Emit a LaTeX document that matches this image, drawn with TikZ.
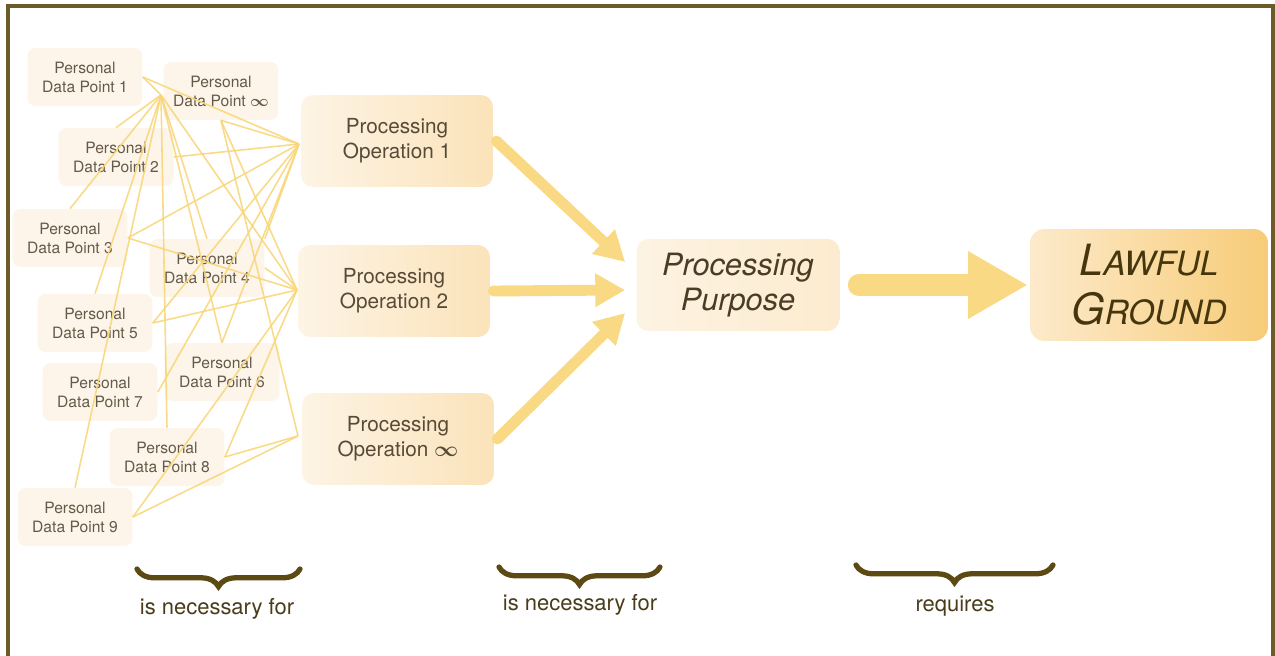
\documentclass[tikz,border=0pt]{standalone}
\usepackage{fontspec}
\setmainfont{TeX Gyre Heros}
\usetikzlibrary{arrows.meta,calc,decorations.pathreplacing}

\definecolor{framecol}{HTML}{6D5C2A}
\definecolor{webline}{HTML}{F8D67A}
\definecolor{arrowfill}{HTML}{F9D983}
\definecolor{dpfill}{HTML}{FDF5E9}
\definecolor{dptext}{HTML}{655A4A}
\definecolor{potext}{HTML}{574B38}
\definecolor{pptext}{HTML}{4A3D26}
\definecolor{poleft}{HTML}{FDF4E5}
\definecolor{poright}{HTML}{FBE3BA}
\definecolor{ppleft}{HTML}{FDF3E2}
\definecolor{ppright}{HTML}{FCEBCF}
\definecolor{lgleft}{HTML}{FDEACB}
\definecolor{lgright}{HTML}{F7CC78}
\definecolor{bracecol}{HTML}{5C4914}
\definecolor{labeltext}{HTML}{4A3C1A}
\definecolor{lgtext}{HTML}{45360E}

\newcommand{\inftymark}{{\boldmath$\infty$}}

\begin{document}
\begin{tikzpicture}[x=0.02cm,y=-0.02cm,
  datapt/.style={fill=dpfill, rounded corners=0.16cm, minimum width=2.3cm,
    minimum height=1.16cm, align=center, text=dptext, inner sep=0pt,
    font=\fontsize{8.9}{10.8}\selectfont},
  procop/.style={left color=poleft, right color=poright, rounded corners=0.24cm,
    minimum width=3.84cm, minimum height=1.84cm, align=center, text=potext,
    inner sep=0pt, font=\fontsize{11.8}{14.2}\selectfont},
  purposebox/.style={left color=ppleft, right color=ppright, rounded corners=0.24cm,
    minimum width=4.06cm, minimum height=1.84cm, align=center, text=pptext,
    inner sep=0pt, font=\fontsize{17.5}{20}\selectfont\itshape},
  groundbox/.style={left color=lgleft, right color=lgright, rounded corners=0.28cm,
    minimum width=4.76cm, minimum height=2.24cm, align=center, text=lgtext,
    inner sep=0pt, font=\fontsize{24.5}{28}\selectfont\itshape},
  webstyle/.style={draw=webline, line width=0.9pt, opacity=0.9},
  flowarrow/.style={draw=arrowfill, line width=6.2pt, line cap=round,
    -{Triangle[length=17pt,width=18pt]}},
  bigarrow/.style={draw=arrowfill, line width=12.5pt, line cap=round,
    -{Triangle[length=34pt,width=36pt]}},
  bracestyle/.style={draw=bracecol, line width=3pt, line cap=round,
    decorate, decoration={brace, mirror, amplitude=10pt}},
  relabel/.style={text=labeltext, font=\fontsize{12.5}{15}\selectfont, inner sep=0pt},
  framestyle/.style={draw=framecol, line width=2.2pt}
]
\useasboundingbox (0,0) rectangle (1275,656);

% outer frame (left, top and right edges)
\draw[framestyle] (8,656) -- (8,6) -- (1273,6) -- (1273,656);

% personal data points
\node[datapt] (dp1)   at (85,77)   {Personal\\Data Point 1};
\node[datapt] (dpinf) at (221,91)  {Personal\\Data Point \inftymark};
\node[datapt] (dp2)   at (116,157) {Personal\\Data Point 2};
\node[datapt] (dp3)   at (70,238)  {Personal\\Data Point 3};
\node[datapt] (dp4)   at (207,268) {Personal\\Data Point 4};
\node[datapt] (dp5)   at (95,323)  {Personal\\Data Point 5};
\node[datapt] (dp6)   at (222,372) {Personal\\Data Point 6};
\node[datapt] (dp7)   at (100,392) {Personal\\Data Point 7};
\node[datapt] (dp8)   at (167,457) {Personal\\Data Point 8};
\node[datapt] (dp9)   at (75,517)  {Personal\\Data Point 9};

% junction points of the web
\coordinate (h0)  at (161,95);
\coordinate (hp1) at (299,144);
\coordinate (hp2) at (297,290);
\coordinate (hp3) at (298,436);

% web of links between data points and operations
\draw[webstyle] (dp1.east) -- (hp1);
\draw[webstyle] (dp1.east) -- (h0);
\draw[webstyle] (h0) -- (dp2.north);
\draw[webstyle] (h0) -- (dp3.north);
\draw[webstyle] (h0) -- (dp5.north);
\draw[webstyle] (h0) -- (dp9.north);
\draw[webstyle] (h0) -- (dp8.north);
\draw[webstyle] (h0) -- (dp4.north);
\draw[webstyle] (h0) -- (dp6.north);
\draw[webstyle] (h0) -- (hp2);
\draw[webstyle] (dpinf.south) -- (hp1);
\draw[webstyle] (dpinf.south) -- (hp2);
\draw[webstyle] (dpinf.south) -- (hp3);
\draw[webstyle] (dp2.east) -- (hp1);
\draw[webstyle] (dp3.east) -- (hp1);
\draw[webstyle] (dp3.east) -- (hp2);
\draw[webstyle] (dp4.east) -- (hp2);
\draw[webstyle] (dp4.north east) -- (hp1);
\draw[webstyle] (dp5.east) -- (hp1);
\draw[webstyle] (dp5.east) -- (hp2);
\draw[webstyle] (dp6.north) -- (hp1);
\draw[webstyle] (dp7.east) -- (hp1);
\draw[webstyle] (dp8.east) -- (hp2);
\draw[webstyle] (dp8.east) -- (hp3);
\draw[webstyle] (dp9.east) -- (hp2);
\draw[webstyle] (dp9.east) -- (hp3);

% processing operations
\node[procop] (po1) at (397,141) {Processing\\Operation 1};
\node[procop] (po2) at (394,291) {Processing\\Operation 2};
\node[procop] (po3) at (398,439) {Processing\\Operation \inftymark};

% purpose and lawful ground
\node[purposebox] (pp) at (738,285) {Processing\\Purpose};
\node[groundbox] (lg) at (1149,285)
  {L{\fontsize{19}{28}\selectfont AWFUL}\\
   G{\fontsize{19}{28}\selectfont ROUND}};

% arrows into the purpose
\draw[flowarrow] ($(po1.east)+(3,0)$) -- ($(pp.west)+(-11,-23)$);
\draw[flowarrow] ($(po2.east)+(3,0)$) -- ($(pp.west)+(-11,5)$);
\draw[flowarrow] ($(po3.east)+(3,0)$) -- ($(pp.west)+(-11,28)$);
\draw[bigarrow, shorten <=10.8pt, shorten >=1pt] (pp.east) -- (lg.west);

% braces and relation labels
\draw[bracestyle] (137,569) -- (300,569);
\draw[bracestyle] (499,567) -- (660,567);
\draw[bracestyle] (856,565) -- (1053,565);
\node[relabel] (rel1) at (217,609) {is necessary for};
\node[relabel] (rel2) at (580,605) {is necessary for};
\node[relabel] (rel3) at (955,606) {requires};
\end{tikzpicture}
\end{document}
